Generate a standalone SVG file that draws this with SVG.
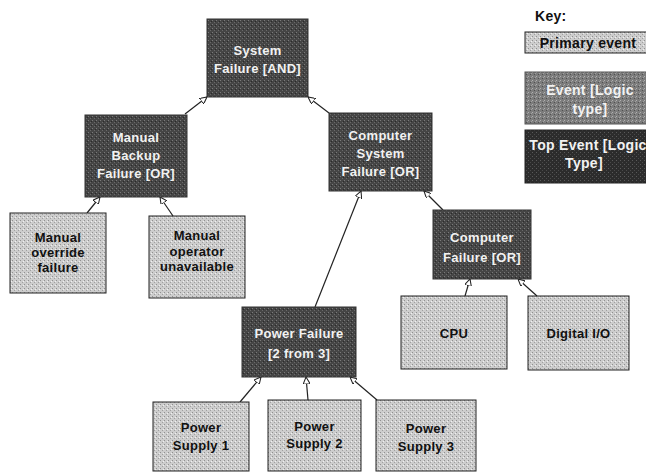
<svg xmlns="http://www.w3.org/2000/svg" width="646" height="472" viewBox="0 0 646 472">
<defs>
<pattern id="pDark" width="4" height="4" patternUnits="userSpaceOnUse">
<rect width="4" height="4" fill="#454545"/>
<rect x="0" y="0" width="1" height="1" fill="#7a7a7a"/>
<rect x="2" y="2" width="1" height="1" fill="#6a6a6a"/>
<rect x="3" y="1" width="1" height="1" fill="#2a2a2a"/>
</pattern>
<pattern id="pMid" width="4" height="4" patternUnits="userSpaceOnUse">
<rect width="4" height="4" fill="#7c7c7c"/>
<rect x="0" y="0" width="1" height="1" fill="#b0b0b0"/>
<rect x="2" y="2" width="1" height="1" fill="#505050"/>
<rect x="3" y="1" width="1" height="1" fill="#a0a0a0"/>
</pattern>
<pattern id="pTop" width="4" height="4" patternUnits="userSpaceOnUse">
<rect width="4" height="4" fill="#2c2c2c"/>
<rect x="0" y="0" width="1" height="1" fill="#5a5a5a"/>
<rect x="2" y="2" width="1" height="1" fill="#4a4a4a"/>
</pattern>
<pattern id="pLight" width="4" height="4" patternUnits="userSpaceOnUse">
<rect width="4" height="4" fill="#cdcdcd"/>
<rect x="0" y="0" width="1" height="1" fill="#909090"/>
<rect x="2" y="2" width="1" height="1" fill="#a0a0a0"/>
<rect x="3" y="1" width="1" height="1" fill="#f0f0f0"/>
</pattern>
<marker id="arr" viewBox="0 0 10 10" refX="10" refY="5" markerWidth="7" markerHeight="7" orient="auto" markerUnits="userSpaceOnUse">
<path d="M0,0 L10,5 L0,10 Z" fill="#fff" stroke="#222" stroke-width="1.5"/>
</marker>
</defs>
<style>
.dk{fill:url(#pDark);stroke:#333;stroke-width:1}
.lt{fill:url(#pLight);stroke:#222;stroke-width:1}
.wt{font-family:"Liberation Sans",Arial,sans-serif;font-weight:bold;font-size:13px;fill:#f2f2f2;text-anchor:middle;letter-spacing:0.3px}
.bt{font-family:"Liberation Sans",Arial,sans-serif;font-weight:bold;font-size:13px;fill:#111;text-anchor:middle;letter-spacing:0.3px}
.k{font-size:14px}
.cn{fill:none;stroke:#222;stroke-width:1.2;marker-end:url(#arr)}
</style>
<rect width="646" height="472" fill="#fff"/>
<g id="connectors">
<line class="cn" x1="185" y1="114" x2="207" y2="97"/>
<line class="cn" x1="329" y1="113" x2="308" y2="97"/>
<line class="cn" x1="315" y1="307" x2="361" y2="191"/>
<line class="cn" x1="87" y1="213" x2="100" y2="197"/>
<line class="cn" x1="173" y1="216" x2="160" y2="197"/>
<line class="cn" x1="443" y1="210" x2="424" y2="191"/>
<line class="cn" x1="465" y1="296" x2="470" y2="279"/>
<line class="cn" x1="537" y1="296" x2="518" y2="279"/>
<line class="cn" x1="240" y1="402" x2="261" y2="377"/>
<line class="cn" x1="308" y1="400" x2="306" y2="377"/>
<line class="cn" x1="377" y1="400" x2="350" y2="377"/>
</g>
<g id="sys">
<rect class="dk" x="207" y="19" width="101" height="78"/>
<text class="wt" x="257.5" y="55">System</text>
<text class="wt" x="257.5" y="73">Failure [AND]</text>
</g>
<g id="mbf">
<rect class="dk" x="85" y="115" width="102" height="82"/>
<text class="wt" x="136" y="142">Manual</text>
<text class="wt" x="136" y="160">Backup</text>
<text class="wt" x="136" y="178">Failure [OR]</text>
</g>
<g id="csf">
<rect class="dk" x="329" y="113" width="103" height="78"/>
<text class="wt" x="380.5" y="140">Computer</text>
<text class="wt" x="380.5" y="158">System</text>
<text class="wt" x="380.5" y="176">Failure [OR]</text>
</g>
<g id="mof">
<rect class="lt" x="10" y="213" width="96" height="80"/>
<text class="bt" x="58" y="242">Manual</text>
<text class="bt" x="58" y="257">override</text>
<text class="bt" x="58" y="272">failure</text>
</g>
<g id="mou">
<rect class="lt" x="149" y="216" width="96" height="82"/>
<text class="bt" x="197" y="240">Manual</text>
<text class="bt" x="197" y="256">operator</text>
<text class="bt" x="197" y="271">unavailable</text>
</g>
<g id="cf">
<rect class="dk" x="433" y="210" width="98" height="69"/>
<text class="wt" x="482" y="242">Computer</text>
<text class="wt" x="482" y="262">Failure [OR]</text>
</g>
<g id="cpu">
<rect class="lt" x="401" y="296" width="106" height="73"/>
<text class="bt" x="454" y="338">CPU</text>
</g>
<g id="dio">
<rect class="lt" x="528" y="296" width="101" height="74"/>
<text class="bt" x="578.5" y="338">Digital I/O</text>
</g>
<g id="pf">
<rect class="dk" x="242" y="307" width="114" height="70"/>
<text class="wt" x="299" y="338">Power Failure</text>
<text class="wt" x="299" y="358">[2 from 3]</text>
</g>
<g id="ps1">
<rect class="lt" x="153" y="402" width="96" height="69"/>
<text class="bt" x="201" y="432">Power</text>
<text class="bt" x="201" y="450">Supply 1</text>
</g>
<g id="ps2">
<rect class="lt" x="268" y="400" width="93" height="71"/>
<text class="bt" x="314.5" y="431">Power</text>
<text class="bt" x="314.5" y="448">Supply 2</text>
</g>
<g id="ps3">
<rect class="lt" x="376" y="400" width="100" height="71"/>
<text class="bt" x="426" y="433">Power</text>
<text class="bt" x="426" y="451">Supply 3</text>
</g>
<g id="key">
<text class="bt k" x="535" y="21" style="text-anchor:start">Key:</text>
<rect class="lt" x="525" y="32" width="125" height="21"/>
<text class="bt k" x="588" y="48">Primary event</text>
<rect x="525" y="72" width="125" height="52" fill="url(#pMid)" stroke="#555"/>
<text class="wt k" x="590" y="95">Event [Logic</text>
<text class="wt k" x="590" y="114">type]</text>
<rect x="525" y="130" width="125" height="53" fill="url(#pTop)" stroke="#222"/>
<text class="wt k" x="588" y="150">Top Event [Logic</text>
<text class="wt k" x="584" y="168">Type]</text>
</g>
</svg>
